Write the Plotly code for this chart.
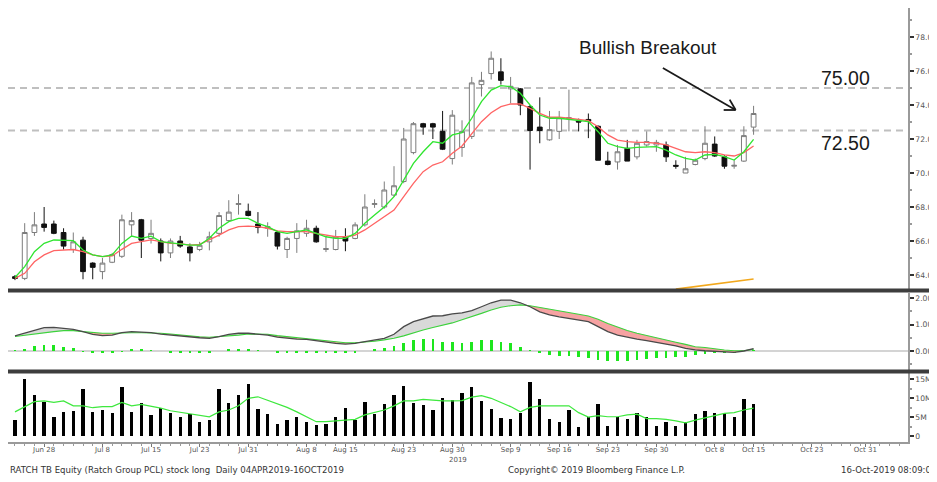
import plotly.graph_objects as go
import numpy as np

# ---------------- data ----------------
idx = list(range(77))  # trading days 25 Jun 2019 .. 15 Oct 2019

open_ = [63.9, 63.8, 66.5, 67.0, 67.0, 66.5, 65.5, 66.05, 64.7, 64.2,
         64.75, 65.1, 66.95, 67.25, 66.15, 66.0, 65.3, 66.0, 65.65, 65.5,
         65.95, 66.45, 67.2, 68.15, 67.75, 67.0, 66.75, 66.5, 65.5, 66.15,
         66.45, 66.75, 65.5, 65.5, 66.25, 66.15, 66.95, 68.15, 68.0, 68.7,
         69.5, 71.2, 72.9, 72.9, 72.45, 70.85, 71.5, 72.15, 75.2, 75.85,
         75.95, 74.95, 74.95, 73.9, 72.7, 71.95, 72.45, 73.2, 73.05, 73.15,
         72.75, 70.7, 70.65, 71.45, 70.95, 71.65, 71.65, 71.65, 70.45, 70.0,
         70.5, 70.85, 71.7, 70.95, 70.4, 70.7, 72.7]
high = [64.0, 67.05, 67.7, 68.0, 67.2, 66.75, 66.5, 66.25, 64.75, 65.0,
        65.3, 67.55, 67.7, 67.3, 67.25, 66.15, 66.15, 66.3, 65.85, 65.95,
        66.55, 67.7, 68.4, 68.75, 68.2, 67.7, 67.1, 66.6, 66.25, 67.05,
        67.25, 66.9, 66.25, 66.65, 66.75, 67.1, 68.75, 68.45, 69.5, 70.4,
        72.65, 73.0, 72.95, 72.95, 73.65, 73.7, 73.1, 75.65, 75.95, 77.15,
        76.75, 75.65, 75.0, 74.0, 74.45, 73.65, 73.65, 74.9, 73.2, 73.5,
        72.8, 71.25, 71.65, 71.95, 71.95, 72.45, 71.95, 71.85, 70.75, 70.95,
        70.85, 72.75, 72.15, 71.05, 70.75, 72.75, 73.95]
low = [63.7, 63.7, 66.3, 66.55, 66.4, 65.5, 65.3, 63.75, 63.75, 63.75,
       64.7, 65.0, 66.3, 65.0, 65.85, 64.8, 65.0, 65.6, 64.8, 65.4,
       65.45, 66.25, 67.15, 67.55, 67.45, 66.45, 66.25, 65.5, 65.0, 65.3,
       66.25, 65.9, 65.35, 65.45, 65.4, 66.1, 66.85, 67.95, 67.9, 68.6,
       69.4, 71.1, 72.25, 72.0, 71.35, 70.5, 70.95, 72.0, 74.5, 75.5,
       75.2, 74.1, 73.4, 70.2, 71.75, 71.9, 72.0, 72.45, 72.45, 72.05,
       70.75, 70.45, 70.2, 70.7, 70.8, 71.55, 71.25, 70.65, 70.25, 70.0,
       70.45, 70.75, 70.95, 70.25, 70.25, 70.65, 72.25]
close = [63.8, 66.5, 66.95, 66.8, 66.45, 65.7, 65.95, 64.2, 64.45, 64.7,
         65.2, 67.25, 67.2, 66.05, 66.45, 65.3, 66.0, 65.7, 65.3, 65.75,
         66.25, 67.5, 67.7, 68.2, 67.5, 66.8, 66.85, 65.7, 66.15, 66.6,
         66.75, 65.95, 65.55, 66.25, 66.0, 66.95, 68.0, 68.2, 69.0, 69.25,
         72.0, 72.9, 72.7, 72.7, 71.4, 73.4, 72.45, 75.3, 75.45, 76.75,
         75.45, 75.1, 74.0, 72.5, 72.5, 72.55, 73.25, 73.25, 73.0, 73.05,
         70.75, 70.5, 71.25, 70.7, 71.75, 71.85, 71.8, 70.95, 70.4, 70.25,
         70.75, 71.75, 71.0, 70.4, 70.45, 72.2, 73.5]

ma_fast = [63.85, 64.49, 65.37, 65.86, 66.06, 66.02, 66.02, 65.47, 65.18, 65.08,
           65.18, 65.86, 66.29, 66.16, 66.29, 65.96, 65.9, 65.86, 65.76, 65.76,
           66.16, 66.75, 67.14, 67.33, 67.33, 67.04, 66.84, 66.55, 66.45, 66.55,
           66.65, 66.45, 66.25, 66.16, 66.16, 66.45, 67.04, 67.53, 68.0, 68.61,
           69.59, 70.57, 71.25, 71.84, 71.75, 72.24, 72.37, 73.22, 74.2, 74.88,
           75.14, 75.08, 74.69, 74.0, 73.41, 73.22, 73.22, 73.16, 73.08, 73.02,
           72.43, 71.75, 71.55, 71.45, 71.51, 71.55, 71.55, 71.35, 71.06, 70.86,
           70.76, 71.06, 71.1, 70.96, 70.76, 71.25, 71.98]
ma_slow = [63.8, 64.1, 64.78, 65.18, 65.43, 65.47, 65.5, 65.37, 65.18, 65.08,
           65.12, 65.51, 65.86, 65.96, 66.06, 65.96, 65.86, 65.84, 65.76, 65.8,
           66.06, 66.35, 66.65, 66.84, 66.88, 66.84, 66.75, 66.6, 66.55, 66.55,
           66.55, 66.45, 66.35, 66.25, 66.25, 66.35, 66.65, 67.04, 67.45, 67.82,
           68.61, 69.39, 70.08, 70.47, 70.66, 71.16, 71.59, 72.33, 73.02, 73.55,
           73.9, 74.06, 74.06, 73.8, 73.51, 73.28, 73.28, 73.22, 73.16, 73.08,
           72.72, 72.24, 71.94, 71.84, 71.8, 71.8, 71.75, 71.65, 71.45, 71.25,
           71.2, 71.25, 71.2, 71.06, 71.0, 71.2, 71.59]
ma_long_x = [68, 72, 76]
ma_long = [63.17, 63.45, 63.76]

macd = [0.57, 0.67, 0.79, 0.88, 0.89, 0.85, 0.82, 0.73, 0.63, 0.58,
        0.60, 0.69, 0.73, 0.71, 0.69, 0.64, 0.60, 0.58, 0.54, 0.50,
        0.48, 0.54, 0.63, 0.67, 0.67, 0.64, 0.60, 0.52, 0.48, 0.45,
        0.44, 0.39, 0.33, 0.29, 0.26, 0.29, 0.35, 0.42, 0.48, 0.63,
        0.92, 1.11, 1.23, 1.32, 1.33, 1.40, 1.44, 1.52, 1.67, 1.82,
        1.92, 1.92, 1.82, 1.67, 1.48, 1.36, 1.29, 1.23, 1.17, 1.11,
        0.92, 0.73, 0.60, 0.52, 0.45, 0.39, 0.33, 0.26, 0.19, 0.10,
        0.04, 0.01, -0.01, -0.05, -0.05, 0.00, 0.09]
signal = [0.55, 0.60, 0.64, 0.69, 0.73, 0.77, 0.77, 0.73, 0.69, 0.67,
          0.67, 0.69, 0.69, 0.69, 0.69, 0.67, 0.64, 0.60, 0.58, 0.54,
          0.52, 0.54, 0.58, 0.60, 0.64, 0.64, 0.63, 0.58, 0.54, 0.50,
          0.48, 0.44, 0.39, 0.35, 0.31, 0.31, 0.33, 0.37, 0.42, 0.48,
          0.57, 0.69, 0.79, 0.89, 0.97, 1.06, 1.18, 1.29, 1.42, 1.55,
          1.65, 1.71, 1.74, 1.71, 1.65, 1.58, 1.52, 1.45, 1.39, 1.32,
          1.20, 1.04, 0.89, 0.77, 0.67, 0.58, 0.50, 0.42, 0.33, 0.25,
          0.16, 0.13, 0.08, 0.04, 0.01, 0.01, 0.06]
hist = [0.02, 0.06, 0.19, 0.23, 0.23, 0.16, 0.13, -0.02, -0.04, -0.05,
        -0.05, -0.01, 0.06, 0.04, 0.03, 0.0, -0.04, -0.04, -0.05, -0.05,
        -0.05, 0.0, 0.06, 0.09, 0.09, 0.01, 0.0, -0.04, -0.05, -0.05,
        -0.05, -0.07, -0.08, -0.08, -0.08, -0.04, 0.0, 0.06, 0.13, 0.19,
        0.31, 0.42, 0.45, 0.45, 0.35, 0.35, 0.31, 0.35, 0.42, 0.42,
        0.35, 0.29, 0.14, 0.01, -0.09, -0.15, -0.19, -0.19, -0.21, -0.25,
        -0.34, -0.38, -0.38, -0.38, -0.34, -0.30, -0.28, -0.25, -0.21, -0.21,
        -0.15, -0.11, -0.09, -0.06, -0.04, 0.0, 0.01]

volume_m = [4.2, 15.0, 10.9, 8.9, 5.1, 6.4, 6.7, 12.5, 6.4, 6.9,
            6.2, 12.9, 6.4, 8.8, 5.6, 7.5, 6.2, 5.1, 5.8, 3.6,
            4.2, 12.5, 8.7, 10.9, 13.8, 7.1, 5.8, 3.1, 4.2, 5.0,
            3.8, 2.9, 3.2, 5.0, 7.5, 4.2, 9.1, 5.8, 8.5, 10.9,
            13.3, 8.7, 8.2, 6.9, 10.2, 9.5, 11.3, 12.9, 9.3, 7.2,
            4.7, 4.4, 6.2, 14.2, 9.8, 4.4, 3.8, 6.9, 2.3, 5.1,
            8.4, 2.7, 5.0, 4.4, 6.0, 5.1, 2.7, 3.8, 2.7, 3.6,
            5.8, 6.7, 6.0, 6.2, 5.1, 9.7, 8.4]
volume_ma = [6.4, 7.8, 9.1, 9.3, 8.9, 9.3, 8.0, 8.0, 7.5, 7.8,
             7.8, 8.9, 8.0, 8.4, 8.0, 7.4, 6.7, 6.3, 6.0, 5.6,
             5.1, 6.4, 6.9, 8.0, 10.0, 10.4, 9.5, 8.7, 7.6, 6.4,
             5.0, 3.8, 3.8, 4.0, 4.2, 4.4, 5.6, 6.2, 6.9, 8.0,
             9.3, 9.3, 9.7, 9.5, 9.3, 9.3, 9.4, 10.3, 10.7, 10.0,
             8.9, 7.8, 6.4, 7.6, 8.0, 8.0, 8.0, 8.0, 6.2, 5.0,
             5.4, 5.1, 5.1, 5.6, 5.8, 4.6, 4.6, 4.4, 4.0, 3.5,
             4.2, 4.9, 5.4, 6.0, 6.2, 6.9, 7.4]

tick_pos = [3, 9, 14, 19, 24, 30, 34, 40, 45, 51, 56, 61, 66, 72, 76, 82, 87.5]
tick_text = ["Jun 28", "Jul 8", "Jul 15", "Jul 23", "Jul 31", "Aug 8", "Aug 15",
             "Aug 23", "Aug 30", "Sep 9", "Sep 16", "Sep 23", "Sep 30", "Oct 8",
             "Oct 15", "Oct 23", "Oct 31"]
price_ticks = [64, 66, 68, 70, 72, 74, 76, 78]
macd_ticks = [0, 1, 2]
vol_ticks = [0, 5, 10, 15]
vol_tick_text = ["0", "5M", "10M", "15M"]
levels = [75.0, 72.5]
level_text = ["75.00", "72.50"]

# ---------------- layout geometry (reference pixels) ----------------
OFF = 8                      # page body margin
W, H = 937 - OFF, 482 - OFF
def pyf(py):
    return min(1.0, max(0.0, 1 - (py - OFF) / H))
def pxf(px):
    return min(1.0, max(0.0, (px - OFF) / W))

X_L, X_R = 8, 911
PX0, PXS = 15, 9.75          # pixel of first candle, pixels per day
def pix_to_idx(px):
    return (px - PX0) / PXS
def pix_to_price(py):
    return 78 - (py - 37) / 17.0

P_TOP = OFF                  # visible top of the price panel
FONT = "DejaVu Sans"
fig = go.Figure()

# price panel
fig.add_trace(go.Candlestick(
    x=idx, open=open_, high=high, low=low, close=close,
    increasing=dict(line=dict(color="#7c7c7c", width=1), fillcolor="white"),
    decreasing=dict(line=dict(color="#111111", width=1), fillcolor="#111111"),
    whiskerwidth=0, xaxis="x", yaxis="y", showlegend=False, hoverinfo="skip"))
fig.add_trace(go.Scatter(x=idx, y=ma_slow, mode="lines",
                         line=dict(color="#ff6464", width=1.3), yaxis="y", hoverinfo="skip"))
fig.add_trace(go.Scatter(x=idx, y=ma_fast, mode="lines",
                         line=dict(color="#2fe52f", width=1.3), yaxis="y", hoverinfo="skip"))
fig.add_trace(go.Scatter(x=ma_long_x, y=ma_long, mode="lines",
                         line=dict(color="#f2a81d", width=1.6), yaxis="y", hoverinfo="skip"))

# MACD panel
upper = np.maximum(macd, signal)
lower = np.minimum(macd, signal)
fig.add_trace(go.Scatter(x=idx, y=signal, mode="lines", line=dict(width=0), yaxis="y2", hoverinfo="skip"))
fig.add_trace(go.Scatter(x=idx, y=upper, mode="lines", line=dict(width=0), fill="tonexty",
                         fillcolor="#d9d9d9", yaxis="y2", hoverinfo="skip"))
fig.add_trace(go.Scatter(x=idx, y=signal, mode="lines", line=dict(width=0), yaxis="y2", hoverinfo="skip"))
fig.add_trace(go.Scatter(x=idx, y=lower, mode="lines", line=dict(width=0), fill="tonexty",
                         fillcolor="#f6a2a2", yaxis="y2", hoverinfo="skip"))
fig.add_trace(go.Bar(x=idx, y=hist, width=0.28, marker=dict(color="#1ee61e", line=dict(width=0)),
                     yaxis="y2", hoverinfo="skip"))
fig.add_trace(go.Scatter(x=idx, y=signal, mode="lines", line=dict(color="#3cd23c", width=1.1),
                         yaxis="y2", hoverinfo="skip"))
fig.add_trace(go.Scatter(x=idx, y=macd, mode="lines", line=dict(color="#4a4a4a", width=1.3),
                         yaxis="y2", hoverinfo="skip"))

# volume panel
fig.add_trace(go.Bar(x=idx, y=volume_m, width=0.34, marker=dict(color="#000000", line=dict(width=0)),
                     yaxis="y3", hoverinfo="skip"))
fig.add_trace(go.Scatter(x=idx, y=volume_ma, mode="lines", line=dict(color="#3ee83e", width=1.2),
                         yaxis="y3", hoverinfo="skip"))

tickfont = dict(family=FONT, size=7, color="#555555")
ytickfont = dict(family=FONT, size=7.6, color="#555555")
yax_common = dict(side="right", anchor="x", showgrid=False, showline=True,
                  linecolor="#9a9a9a", linewidth=1.5, ticks="outside", ticklen=4,
                  tickcolor="#333333", tickwidth=1.5, tickfont=ytickfont, fixedrange=True)

fig.update_layout(
    width=W, height=H, margin=dict(l=0, r=0, t=0, b=0),
    paper_bgcolor="white", plot_bgcolor="white", showlegend=False,
    bargap=0, hovermode=False,
    xaxis=dict(domain=[pxf(X_L), pxf(X_R)], range=[pix_to_idx(X_L), pix_to_idx(X_R)],
               anchor="y3", showgrid=False, zeroline=False, showline=True,
               linecolor="#9a9a9a", linewidth=1.5, ticks="outside", ticklen=3,
               tickcolor="#777777", tickmode="array", tickvals=tick_pos, ticktext=tick_text,
               tickfont=tickfont, ticklabelstandoff=-3, rangeslider=dict(visible=False),
               minor=dict(ticks="outside", dtick=1, tick0=0, ticklen=2, tickcolor="#999999"),
               fixedrange=True),
    yaxis=dict(domain=[pyf(290), pyf(P_TOP)], range=[pix_to_price(290), pix_to_price(P_TOP)],
               tickvals=price_ticks, tickformat=".2f", zeroline=False,
               minor=dict(ticks="outside", dtick=1, ticklen=2, tickcolor="#999999"), **yax_common),
    yaxis2=dict(domain=[pyf(369.5), pyf(293)], range=[(351 - 369.5) / 26.5, (351 - 293) / 26.5],
                tickvals=macd_ticks, tickformat=".2f",
                zeroline=True, zerolinecolor="#d4d4d4", zerolinewidth=1.5,
                minor=dict(ticks="outside", dtick=0.5, ticklen=2, tickcolor="#999999"), **yax_common),
    yaxis3=dict(domain=[pyf(442), pyf(373)], range=[(436 - 442) / 3.77, (436 - 373) / 3.77],
                tickvals=vol_ticks, ticktext=vol_tick_text, zeroline=False,
                minor=dict(ticks="outside", dtick=2.5, ticklen=2, tickcolor="#999999"), **yax_common),
)

shapes = []
# panel separators
for top, bot in [(288.5, 292.5), (369.5, 373.5)]:
    shapes.append(dict(type="rect", xref="paper", yref="paper", x0=pxf(X_L), x1=1,
                       y0=pyf(bot), y1=pyf(top), fillcolor="#3d3d3d", line=dict(width=0), layer="above"))
# support / resistance levels
for lv in levels:
    shapes.append(dict(type="line", xref="paper", yref="y", x0=pxf(X_L), x1=pxf(X_R), y0=lv, y1=lv,
                       line=dict(color="#bfbfbf", width=2, dash="7px,5px"), layer="below"))
# arrow (line + open head)
head = (738, 110)
tail = (665, 68)
for a, b in [(tail, head), ((732, 99.6), head), ((726, 110), head)]:
    shapes.append(dict(type="line", xref="x", yref="y",
                       x0=pix_to_idx(a[0]), y0=pix_to_price(a[1]),
                       x1=pix_to_idx(b[0]), y1=pix_to_price(b[1]),
                       line=dict(color="#1a1a1a", width=1.8)))
fig.update_layout(shapes=shapes)

ann = []
ann.append(dict(text="Bullish Breakout", xref="paper", yref="paper", x=pxf(650), y=pyf(48),
                xanchor="center", yanchor="middle", showarrow=False,
                font=dict(family="Liberation Sans", size=19, color="#1a1a1a")))
for lv, txt, dy in zip(levels, level_text, [10, -12]):
    ann.append(dict(text=txt, xref="paper", yref="y", x=pxf(848), y=lv, yshift=dy,
                    xanchor="center", yanchor="middle", showarrow=False,
                    font=dict(family="Liberation Sans", size=19.5, color="#1a1a1a")))
ann.append(dict(text="2019", xref="x", yref="paper", x=45.6, y=pyf(460), xanchor="center",
                yanchor="middle", showarrow=False, font=tickfont))
foot = dict(family=FONT, size=8.6, color="#333333")
ann.append(dict(text="RATCH TB Equity (Ratch Group PCL) stock long  Daily 04APR2019-16OCT2019",
                xref="paper", yref="paper", x=pxf(8), y=pyf(470), xanchor="left", yanchor="middle",
                showarrow=False, font=foot))
ann.append(dict(text="Copyright© 2019 Bloomberg Finance L.P.", xref="paper", yref="paper",
                x=pxf(598), y=pyf(470), xanchor="center", yanchor="middle", showarrow=False, font=foot))
ann.append(dict(text="16-Oct-2019 08:09:00", xref="paper", yref="paper", x=pxf(842), y=pyf(470),
                xanchor="left", yanchor="middle", showarrow=False, font=foot))
fig.update_layout(annotations=ann)

fig.write_html("out.html", config={"displayModeBar": False})
